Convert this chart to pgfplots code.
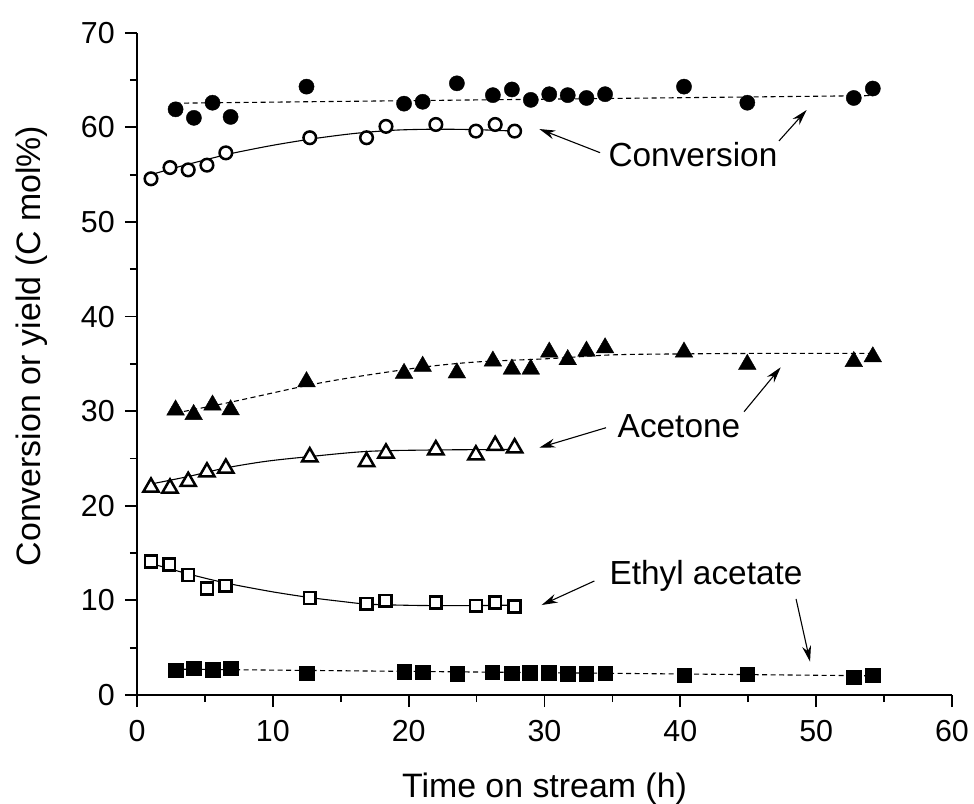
\documentclass[border=0pt]{standalone}
\usepackage{fontspec}
\setmainfont{Liberation Sans}
\usepackage{pgfplots}
\pgfplotsset{compat=1.18}
\usetikzlibrary{arrows.meta}

\begin{document}
\begin{tikzpicture}
\path[use as bounding box] (-137bp,-109bp) rectangle (837bp,695bp);
\begin{axis}[
  at={(0,0)}, anchor=south west,
  scale only axis, width=815bp, height=662.3bp,
  xmin=0, xmax=60, ymin=0, ymax=70,
  axis x line*=bottom, axis y line*=left,
  axis line style={-, line width=1.8bp},
  tick align=outside,
  major tick length=12bp, minor tick length=7bp,
  every tick/.style={black, line width=1.8bp},
  xtick={0,10,...,60}, ytick={0,10,...,70},
  minor xtick={5,15,...,55}, minor ytick={5,15,...,65},
  /pgf/number format/assume math mode=true,
  tick label style={font=\fontsize{30.5}{36}\selectfont},
  xticklabel style={anchor=base, yshift=-34.7bp},
  yticklabel style={anchor=east, inner sep=0pt, xshift=-10bp},
  label style={font=\fontsize{34}{40}\selectfont},
  xlabel={Time on stream (h)},
  ylabel={Conversion or yield (C mol\%)},
  xlabel style={at={(axis description cs:0.5,0)}, anchor=base, yshift=-102bp},
  ylabel style={at={(axis description cs:-0.119,0.527)}, anchor=base},
  clip=false,
  fitsolid/.style={black, line width=1.1bp, no marks, smooth},
  fitdash/.style={black, line width=1.1bp, no marks, smooth, dash pattern=on 5bp off 3.5bp},
]
% ---- trend lines ----
\addplot[fitdash] coordinates {(2.84,62.55) (54.17,63.35)};
\addplot[fitsolid] coordinates {(1.03,55.0) (3,55.8) (5,56.55) (7,57.25) (10,58.1) (13,58.8) (16,59.35) (19,59.7) (22,59.8) (25,59.75) (27.8,59.6)};
\addplot[fitdash] coordinates {(2.84,29.8) (6.89,30.95) (12.48,32.7) (16,33.6) (21.03,34.65) (25,35.2) (30.35,35.55) (35,35.95) (40,36.05) (45,36.1) (54.17,36.1)};
\addplot[fitsolid] coordinates {(1.03,22.3) (3.8,23.1) (6.54,24.0) (9.5,24.7) (12.72,25.2) (17,25.75) (22,25.9) (27.8,25.95)};
\addplot[fitsolid] coordinates {(1.03,13.9) (3,13.1) (5,12.35) (7,11.7) (10,10.9) (12.72,10.3) (15,9.9) (17,9.6) (20,9.48) (22,9.45) (25,9.45) (27.8,9.5)};
\addplot[fitdash] coordinates {(2.84,2.73) (54.14,2.03)};
% ---- conversion ----
\addplot[only marks, mark=*, mark size=7.6bp, mark options={fill=black, draw=black}] coordinates {
(2.84,61.9) (4.19,61.0) (5.56,62.6) (6.89,61.1) (12.48,64.3) (19.66,62.5) (21.03,62.7) (23.55,64.65) (26.2,63.4) (27.6,64.0) (28.99,62.9) (30.35,63.5) (31.71,63.4) (33.09,63.1) (34.46,63.5) (40.27,64.3) (44.93,62.6) (52.77,63.1) (54.17,64.1)};
\addplot[only marks, mark=*, mark size=6.3bp, mark options={fill=white, draw=black, line width=2.5bp}] coordinates {
(1.03,54.56) (2.43,55.75) (3.77,55.5) (5.15,56.0) (6.54,57.3) (12.72,58.9) (16.9,58.9) (18.33,60.1) (22.0,60.3) (24.95,59.6) (26.37,60.3) (27.8,59.6)};
% ---- acetone ----
\addplot[only marks, mark=triangle*, mark size=10.2bp, mark options={fill=black, draw=black}] coordinates {
(2.84,30.12) (4.17,29.64) (5.56,30.64) (6.89,30.14) (12.48,33.11) (19.66,33.99) (21.03,34.74) (23.55,34.04) (26.2,35.29) (27.6,34.44) (28.99,34.44) (30.35,36.24) (31.71,35.44) (33.09,36.34) (34.46,36.69) (40.27,36.24) (44.93,34.94) (52.77,35.24) (54.17,35.74)};
\addplot[only marks, mark=triangle*, mark size=8.8bp, mark options={fill=white, draw=black, line width=2.5bp}] coordinates {
(1.03,21.96) (2.43,21.86) (3.77,22.56) (5.15,23.56) (6.54,23.96) (12.72,25.16) (16.9,24.66) (18.33,25.56) (22.0,25.91) (24.95,25.36) (26.37,26.36) (27.8,26.11)};
% ---- ethyl acetate ----
\addplot[only marks, mark=square*, mark size=7.3bp, mark options={fill=black, draw=black}] coordinates {
(2.84,2.64) (4.19,2.85) (5.56,2.67) (6.89,2.82) (12.48,2.29) (19.66,2.46) (21.03,2.4) (23.58,2.25) (26.15,2.4) (27.6,2.29) (28.92,2.36) (30.3,2.36) (31.71,2.25) (33.07,2.25) (34.46,2.29) (40.27,2.08) (44.93,2.18) (52.77,1.9) (54.14,2.08)};
\addplot[only marks, mark=square*, mark size=5.9bp, mark options={fill=white, draw=black, line width=2.5bp}] coordinates {
(1.03,14.1) (2.38,13.8) (3.77,12.67) (5.15,11.27) (6.52,11.55) (12.72,10.24) (16.9,9.64) (18.3,9.96) (22.0,9.79) (24.95,9.43) (26.37,9.79) (27.8,9.36)};
% ---- annotations ----
\node[font=\fontsize{33.5}{40}\selectfont, anchor=base] at (axis cs:40.93,55.91) {Conversion};
\node[font=\fontsize{33.5}{40}\selectfont, anchor=base] at (axis cs:39.9,27.24) {Acetone};
\node[font=\fontsize{33.5}{40}\selectfont, anchor=base] at (axis cs:41.89,11.63) {Ethyl acetate};
\draw[-{Stealth[length=16bp,width=9bp]}, line width=1.1bp] (axis cs:34.09,57.32) -- (axis cs:29.62,59.82);
\draw[-{Stealth[length=16bp,width=9bp]}, line width=1.1bp] (axis cs:47.26,58.56) -- (axis cs:49.30,61.83);
\draw[-{Stealth[length=16bp,width=9bp]}, line width=1.1bp] (axis cs:34.53,28.25) -- (axis cs:29.62,26.14);
\draw[-{Stealth[length=16bp,width=9bp]}, line width=1.1bp] (axis cs:44.69,29.94) -- (axis cs:47.39,34.64);
\draw[-{Stealth[length=16bp,width=9bp]}, line width=1.1bp] (axis cs:33.67,12.05) -- (axis cs:29.79,9.51);
\draw[-{Stealth[length=16bp,width=9bp]}, line width=1.1bp] (axis cs:48.52,10.15) -- (axis cs:49.55,3.52);
\end{axis}
\end{tikzpicture}
\end{document}
